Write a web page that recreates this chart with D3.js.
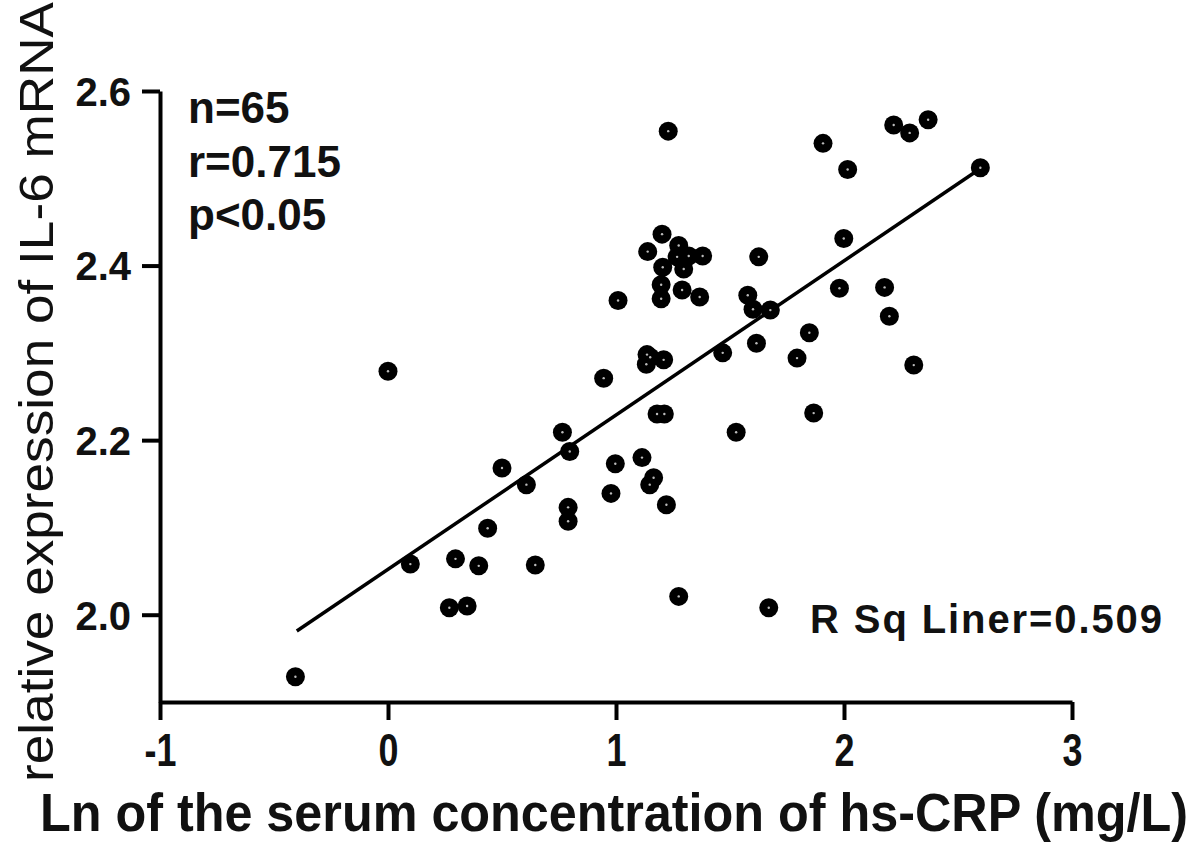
<!DOCTYPE html>
<html>
<head>
<meta charset="utf-8">
<script src="https://cdn.jsdelivr.net/npm/d3@7"></script>
<style>
  body { margin: 0; background: #fff; }
  svg { display: block; font-family: "Liberation Sans", Arial, sans-serif; }
</style>
</head>
<body>
<svg id="chart"></svg>
<script>
// values
const lnCRP = [
  -0.406, 0.000, 0.098, 0.269, 0.347, 0.296, 0.398, 0.437, 0.500, 0.607,
  0.646, 0.765, 0.797, 0.790, 0.790, 1.229, 1.202, 1.139, 1.275, 1.319,
  1.380, 1.205, 1.297, 1.268, 1.198, 1.198, 1.290, 1.367, 1.009, 1.626,
  1.578, 1.601, 1.136, 1.133, 1.209, 0.946, 1.468, 1.616, 1.794, 1.180,
  1.212, 1.527, 0.997, 1.114, 1.165, 1.148, 0.978, 1.221, 1.275, 1.670,
  1.908, 2.016, 2.218, 2.288, 2.369, 2.598, 1.999, 1.677, 1.980, 2.178,
  2.199, 1.848, 2.306, 1.867, 1.150
];
const il6 = [
  1.929, 2.279, 2.058, 2.008, 2.010, 2.064, 2.056, 2.099, 2.168, 2.149,
  2.057, 2.209, 2.187, 2.123, 2.107, 2.554, 2.436, 2.416, 2.423, 2.411,
  2.411, 2.398, 2.396, 2.410, 2.378, 2.362, 2.372, 2.364, 2.360, 2.410,
  2.366, 2.350, 2.298, 2.287, 2.292, 2.271, 2.300, 2.311, 2.294, 2.230,
  2.230, 2.209, 2.173, 2.180, 2.157, 2.149, 2.139, 2.126, 2.021, 2.008,
  2.540, 2.510, 2.561, 2.552, 2.567, 2.512, 2.431, 2.349, 2.374, 2.375,
  2.342, 2.323, 2.286, 2.231, 2.295
];

// fitted line as drawn in the picture
const fitX = [-0.4, 2.6];
const fitSlope = 0.1767;
const fitIntercept = 2.052;

const xTicks = [-1, 0, 1, 2, 3];
const yTicks = [2.0, 2.2, 2.4, 2.6];
const statsText = ["n=65", "r=0.715", "p<0.05"];
const rSqText = "R Sq Liner=0.509";

const svg = d3.select("#chart")
  .attr("width", 1200)
  .attr("height", 861);

const xScale = d3.scaleLinear().domain([-1, 3]).range([160, 1072]);
const yScale = d3.scaleLinear().domain([1.9, 2.6]).range([702, 91]);

// axes
const xAxis = d3.axisBottom(xScale)
  .tickValues(xTicks)
  .tickFormat(d => String(d))   // plain hyphen, like the original
  .tickSize(18)
  .tickSizeOuter(0)
  .tickPadding(13);

const yAxis = d3.axisLeft(yScale)
  .tickValues(yTicks)
  .tickFormat(d3.format(".1f"))
  .tickSize(18)
  .tickSizeOuter(0)
  .tickPadding(11);

const gx = svg.append("g")
  .attr("transform", "translate(0, 702)")
  .call(xAxis);

const gy = svg.append("g")
  .attr("transform", "translate(160, 0)")
  .call(yAxis);

[gx, gy].forEach(g => {
  g.select(".domain").attr("stroke", "#000").attr("stroke-width", 4);
  g.selectAll(".tick line").attr("stroke", "#000").attr("stroke-width", 4);
  g.selectAll(".tick text")
    .attr("fill", "#111")
    .attr("font-family", "Liberation Sans, Arial, sans-serif")
    .attr("font-weight", "bold");
});

gx.selectAll(".tick text")
  .attr("font-size", 46)
  .attr("transform", "scale(0.78,1)");

gy.selectAll(".tick text")
  .attr("font-size", 40)
  .attr("dy", "0.36em");

// regression line
const line = d3.line()
  .x(d => xScale(d))
  .y(d => yScale(fitIntercept + fitSlope * d));

svg.append("path")
  .datum(fitX)
  .attr("fill", "none")
  .attr("stroke", "#000")
  .attr("stroke-width", 3.5)
  .attr("d", line);

// points
const points = d3.zip(lnCRP, il6);

svg.append("g")
  .selectAll("circle")
  .data(points)
  .join("circle")
  .attr("cx", d => xScale(d[0]))
  .attr("cy", d => yScale(d[1]))
  .attr("r", 9.5)
  .attr("fill", "#000");

svg.append("g")
  .selectAll("circle")
  .data(points)
  .join("circle")
  .attr("cx", d => xScale(d[0]))
  .attr("cy", d => yScale(d[1]))
  .attr("r", 1.2)
  .attr("fill", "#bbb");

// annotations
svg.append("g")
  .selectAll("text")
  .data(statsText)
  .join("text")
  .attr("x", 188)
  .attr("y", (d, i) => 123 + i * 53.5)
  .attr("font-size", 44)
  .attr("font-weight", "bold")
  .attr("fill", "#111")
  .text(d => d);

svg.append("text")
  .attr("x", 810)
  .attr("y", 633)
  .attr("font-size", 40)
  .attr("font-weight", "bold")
  .attr("fill", "#111")
  .attr("textLength", 352)
  .attr("lengthAdjust", "spacing")
  .text(rSqText);

// axis titles
svg.append("text")
  .attr("transform", "translate(40, 831) scale(1, 1.1)")
  .attr("font-size", 48)
  .attr("font-weight", "bold")
  .attr("fill", "#111")
  .attr("textLength", 1148)
  .attr("lengthAdjust", "spacingAndGlyphs")
  .text("Ln of the serum concentration of hs-CRP (mg/L)");

svg.append("text")
  .attr("transform", "translate(53, 392) rotate(-90)")
  .attr("text-anchor", "middle")
  .attr("font-size", 48)
  .attr("fill", "#111")
  .attr("textLength", 780)
  .attr("lengthAdjust", "spacingAndGlyphs")
  .text("relative expression of IL-6 mRNA");
</script>
</body>
</html>
